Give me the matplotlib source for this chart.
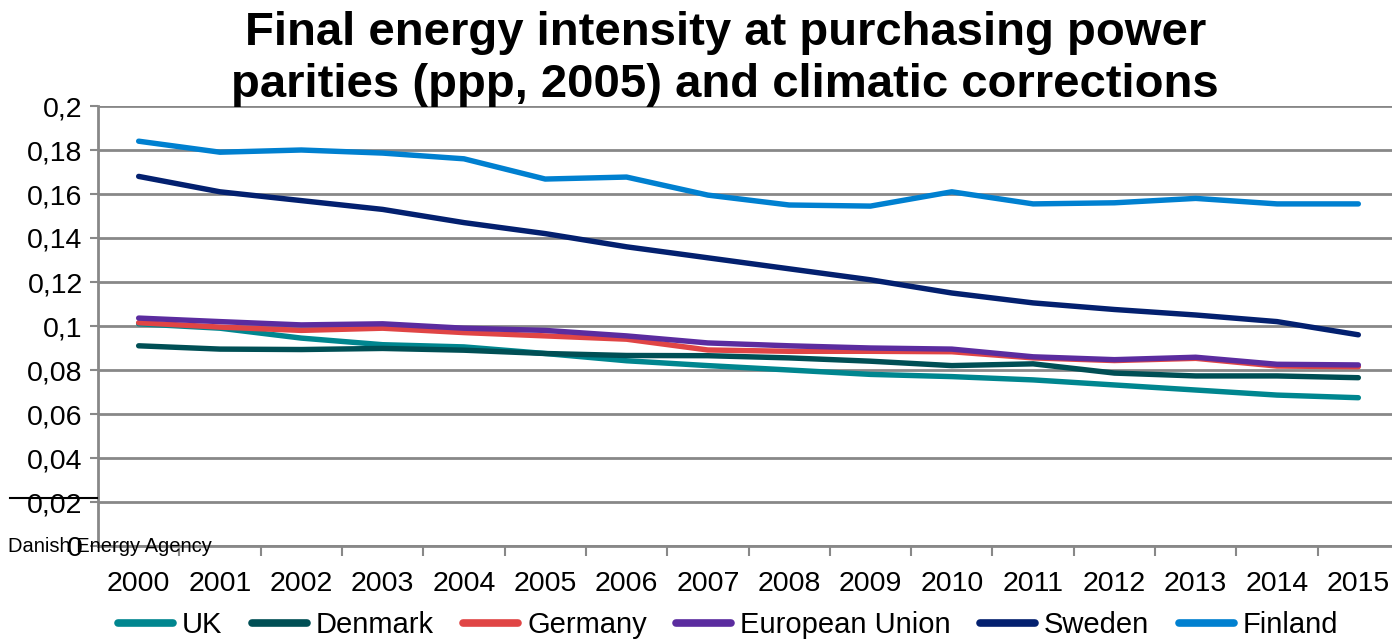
import matplotlib
matplotlib.use("Agg")
import matplotlib.pyplot as plt
from matplotlib.lines import Line2D

plt.rcParams["font.family"] = ["Liberation Sans", "DejaVu Sans"]

# Data
years = [str(y) for y in range(2000, 2016)]
uk      = [0.101, 0.099, 0.0945, 0.0915, 0.0905, 0.0875, 0.0842, 0.082, 0.080, 0.078,
           0.077, 0.0755, 0.0732, 0.0709, 0.0686, 0.0674]
denmark = [0.091, 0.0895, 0.0893, 0.0898, 0.089, 0.0875, 0.0866, 0.0865, 0.0855, 0.084,
           0.082, 0.0828, 0.0786, 0.0773, 0.0773, 0.0765]
germany = [0.1015, 0.0995, 0.098, 0.099, 0.097, 0.0955, 0.094, 0.0891, 0.0885, 0.0885,
           0.0883, 0.0855, 0.0843, 0.0853, 0.0818, 0.0815]
eu      = [0.1036, 0.102, 0.1005, 0.101, 0.099, 0.098, 0.0955, 0.0923, 0.091, 0.090,
           0.0895, 0.086, 0.0847, 0.0858, 0.0826, 0.0823]
sweden  = [0.168, 0.161, 0.157, 0.153, 0.147, 0.142, 0.136, 0.131, 0.126, 0.121,
           0.115, 0.1105, 0.1075, 0.105, 0.102, 0.096]
finland = [0.184, 0.179, 0.180, 0.1786, 0.176, 0.1668, 0.1677, 0.1595, 0.155, 0.1545,
           0.161, 0.1555, 0.156, 0.158, 0.1555, 0.1555]

series_names = ["UK", "Denmark", "Germany", "European Union", "Sweden", "Finland"]
series_vals = [uk, denmark, germany, eu, sweden, finland]
colors = ["#00868F", "#004F55", "#E04545", "#5B2C9F", "#03206F", "#0080D0"]

y_ticks = [0, 0.02, 0.04, 0.06, 0.08, 0.1, 0.12, 0.14, 0.16, 0.18, 0.2]
y_labels = ["0", "0,02", "0,04", "0,06", "0,08", "0,1", "0,12", "0,14", "0,16", "0,18", "0,2"]

W, H = 1392, 639
fig = plt.figure(figsize=(W / 100, H / 100), dpi=100)
ax = fig.add_axes([98 / W, 1 - 546 / H, (1399 - 98) / W, (546 - 106) / H])

x = list(range(len(years)))
for name, vals, c in zip(series_names, series_vals, colors):
    ax.plot(x, vals, color=c, lw=3.9, solid_capstyle="round",
            solid_joinstyle="round", label=name, zorder=3)

ax.set_xlim(-0.5, len(years) - 0.5)
ax.set_ylim(0, 0.2)
ax.set_yticks(y_ticks)
ax.set_yticklabels(y_labels, fontsize=20.5)
ax.set_xticks(x)
ax.set_xticklabels(years, fontsize=20.5)
ax.set_xticks([i - 0.5 for i in range(1, len(years))], minor=True)
ax.tick_params(axis="x", which="major", length=0, pad=18)
ax.tick_params(axis="x", which="minor", length=7, width=1.5, color="#888888")
ax.tick_params(axis="y", length=6, width=1.5, color="#888888", pad=5)
ax.grid(axis="y", color="#888888", lw=2, zorder=0)
for side in ["top", "right"]:
    ax.spines[side].set_visible(False)
for side in ["left", "bottom"]:
    ax.spines[side].set_color("#888888")
    ax.spines[side].set_linewidth(2)

fig.text(0.521, 1 - 33 / H, "Final energy intensity at purchasing power",
         ha="center", va="center", fontsize=34, fontweight="bold")
fig.text(0.521, 1 - 85 / H, "parities (ppp, 2005) and climatic corrections",
         ha="center", va="center", fontsize=34, fontweight="bold")

fig.text(8 / W, 1 - 547 / H, "Danish Energy Agency", ha="left", va="center", fontsize=14.5)
fig.add_artist(Line2D([10 / W, 97 / W], [1 - 498 / H, 1 - 498 / H],
                      color="black", lw=1.5))

handles, labels = ax.get_legend_handles_labels()
leg = fig.legend(handles, labels, loc="center", bbox_to_anchor=(728 / W, 1 - 625 / H),
                 ncol=6, frameon=False, fontsize=21, handlelength=1.9,
                 handletextpad=0.3, columnspacing=1.0)
for h in leg.get_lines():
    h.set_linewidth(5.5)
    h.set_solid_capstyle("round")

fig.savefig("out.png", dpi=100)
